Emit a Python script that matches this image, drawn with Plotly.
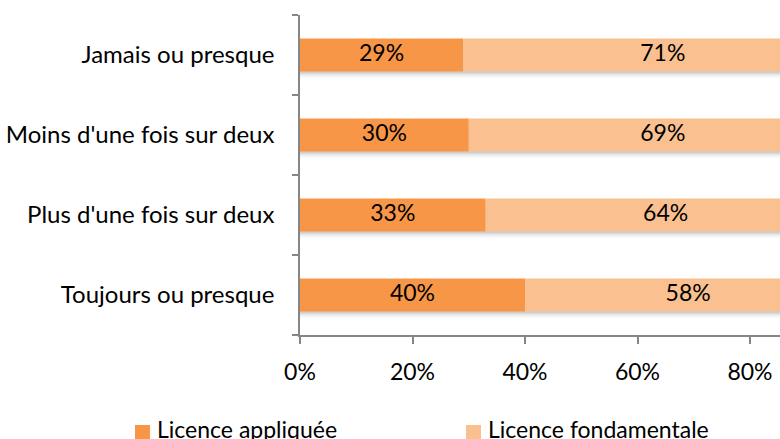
import plotly.graph_objects as go

categories = ["Jamais ou presque", "Moins d'une fois sur deux", "Plus d'une fois sur deux", "Toujours ou presque"]
appliquee = [29, 30, 33, 40]
fondamentale = [71, 69, 64, 58]
series_names = ["Licence appliquée", "Licence fondamentale"]
tick_vals = [0, 20, 40, 60, 80, 100]
tick_text = ["0%", "20%", "40%", "60%", "80%", "100%"]

FONT = "Lato"
FS = 23
c1 = "#F79646"
c2 = "#FAC090"

W, H = 780, 439
L, T = 300, 15
PB = 335  # plot bottom in px
PW = W - L
PH = PB - T
PX_PER_UNIT = 562.5 / 100  # px per percent


def px_x(sx):
    return (sx - L) / PW


def px_y(sy):
    return (PB - sy) / PH


totals = [a + f for a, f in zip(appliquee, fondamentale)]
BW = 0.41

fig = go.Figure()
# soft shadow under bars
for dy, alpha in [(0.03, 0.10), (0.055, 0.06), (0.08, 0.03)]:
    fig.add_trace(go.Bar(y=categories, x=totals, base=0, orientation="h", showlegend=False,
                         marker=dict(color=f"rgba(0,0,0,{alpha})", line=dict(width=0)),
                         width=BW, offset=-BW / 2 - dy, hoverinfo="skip"))
fig.add_trace(go.Bar(y=categories, x=appliquee, base=0, orientation="h", name=series_names[0],
                     marker=dict(color=c1, line=dict(width=0)), width=BW, offset=-BW / 2,
                     showlegend=False))
fig.add_trace(go.Bar(y=categories, x=fondamentale, base=appliquee, orientation="h", name=series_names[1],
                     marker=dict(color=c2, line=dict(width=0)), width=BW, offset=-BW / 2,
                     showlegend=False))

# labels centred in each segment
fig.add_trace(go.Scatter(y=categories, x=[a / 2 for a in appliquee], mode="text",
                         text=[f"{a}%" for a in appliquee], showlegend=False,
                         textfont=dict(family=FONT, size=FS, color="black"), hoverinfo="skip"))
fig.add_trace(go.Scatter(y=categories, x=[a + f / 2 for a, f in zip(appliquee, fondamentale)], mode="text",
                         text=[f"{f}%" for f in fondamentale], showlegend=False,
                         textfont=dict(family=FONT, size=FS, color="black"), hoverinfo="skip"))

# manual legend
shapes = []
annotations = []
for name, col, sx in [(series_names[0], c1, 135), (series_names[1], c2, 466)]:
    shapes.append(dict(type="rect", xref="paper", yref="paper",
                       x0=px_x(sx), x1=px_x(sx + 15), y0=px_y(425), y1=px_y(440),
                       fillcolor=col, line=dict(width=0), layer="above"))
    annotations.append(dict(text=name, xref="paper", yref="paper", x=px_x(sx + 20), y=px_y(413),
                            xanchor="left", yanchor="top", showarrow=False,
                            font=dict(family=FONT, size=FS, color="black")))

fig.update_layout(
    barmode="overlay",
    width=W, height=H,
    margin=dict(l=L, r=0, t=T, b=H - PB),
    paper_bgcolor="white", plot_bgcolor="white",
    font=dict(family=FONT, size=FS, color="black"),
    showlegend=False,
    shapes=shapes, annotations=annotations,
    xaxis=dict(range=[0, PW / PX_PER_UNIT], tickvals=tick_vals, ticktext=tick_text, automargin=False,
               showgrid=False, zeroline=False, showline=True, linecolor="#868686", linewidth=1.5,
               ticks="outside", ticklen=7, tickcolor="#868686", tickwidth=1.5,
               ticklabelstandoff=9,
               tickfont=dict(family=FONT, size=FS)),
    yaxis=dict(categoryorder="array", categoryarray=categories[::-1], autorange=False, range=[-0.5, 3.5],
               automargin=False,
               showgrid=False, zeroline=False, showline=True, linecolor="#868686", linewidth=1.5,
               ticks="outside", ticklen=6, tickcolor="#868686", tickwidth=1.5, tickson="boundaries",
               ticklabelstandoff=19,
               tickfont=dict(family=FONT, size=24)),
)

fig.write_html("out.html", config={"displayModeBar": False},
               post_script="document.body.style.margin='0';document.body.style.overflow='hidden';")
